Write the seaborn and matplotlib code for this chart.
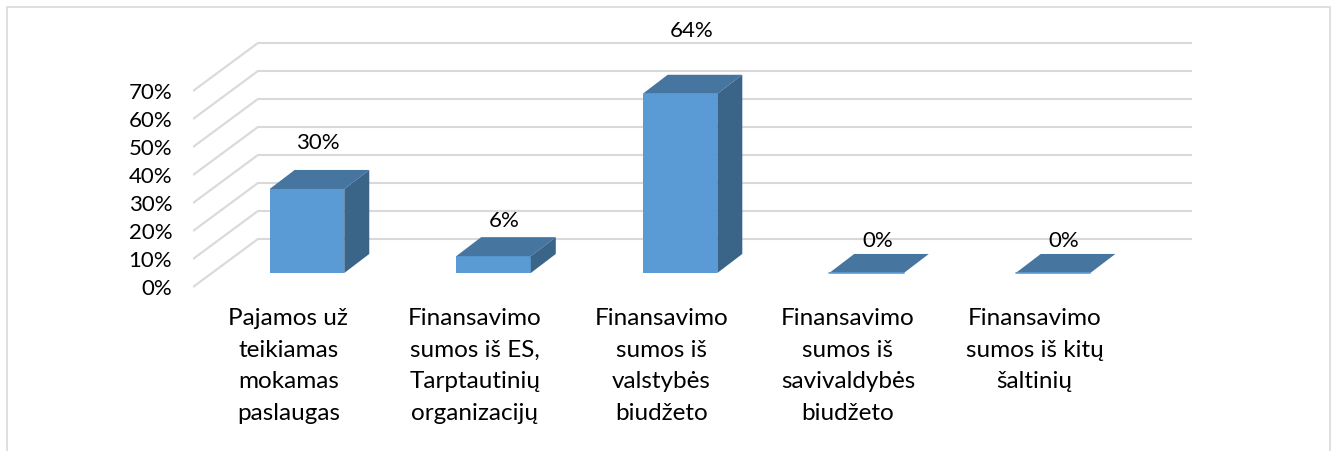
import numpy as np
import pandas as pd
import matplotlib
matplotlib.use("Agg")
import matplotlib.pyplot as plt
from matplotlib.patches import Polygon, Rectangle
import seaborn as sns

categories = [
    "Pajamos už\nteikiamas\nmokamas\npaslaugas",
    "Finansavimo\nsumos iš ES,\nTarptautinių\norganizacijų",
    "Finansavimo\nsumos iš\nvalstybės\nbiudžeto",
    "Finansavimo\nsumos iš\nsavivaldybės\nbiudžeto",
    "Finansavimo\nsumos iš kitų\nšaltinių",
]
values = [30, 6, 64, 0, 0]
value_labels = ["30%", "6%", "64%", "0%", "0%"]
tick_values = [0, 10, 20, 30, 40, 50, 60, 70]
tick_labels = ["0%", "10%", "20%", "30%", "40%", "50%", "60%", "70%"]

FRONT = "#5B9BD5"
TOP = "#4675A0"
SIDE = "#3B6489"
GRID = "#D9D9D9"

sns.set_theme(style="white")
plt.rcParams["font.family"] = ["Lato", "DejaVu Sans"]

FS = 16
FS_CAT = 17.5

fig = plt.figure(figsize=(13.36, 4.51), dpi=100)
ax = fig.add_axes([193 / 1336, 1 - 300 / 451, 999 / 1336, 280 / 451])

df = pd.DataFrame({"cat": categories, "val": values})
sns.barplot(data=df, x="cat", y="val", color=FRONT, width=0.4, saturation=1,
            ax=ax, zorder=3, edgecolor="none")

# perspective offsets (data units)
bar_dx, bar_dy = 0.134, 6.8       # depth of bars
floor_front, floor_back = -5.0, 12.14   # front/back wall offsets of grid
wall_left_front, wall_left_back = -0.611, -0.263
wall_right = 4.745

# back wall grid lines with diagonal side-wall part
for v in tick_values:
    ax.plot([wall_left_front, wall_left_back, wall_right],
            [v + floor_front, v + floor_back, v + floor_back],
            color=GRID, lw=1.5, zorder=1, solid_capstyle="butt")

# 3D faces derived from the bars drawn by seaborn
for p in list(ax.patches):
    x0 = p.get_x()
    w = p.get_width()
    h = p.get_height()
    x1 = x0 + w
    top = Polygon([(x0, h), (x1, h), (x1 + bar_dx, h + bar_dy), (x0 + bar_dx, h + bar_dy)],
                  closed=True, facecolor=TOP, edgecolor="none", zorder=4)
    ax.add_patch(top)
    if h > 0:
        side = Polygon([(x1, 0), (x1 + bar_dx, bar_dy), (x1 + bar_dx, h + bar_dy), (x1, h)],
                       closed=True, facecolor=SIDE, edgecolor="none", zorder=4)
        ax.add_patch(side)
    else:
        ax.plot([x0, x1], [0, 0], color=FRONT, lw=1.2, zorder=5)

# data labels
for i, (v, lab) in enumerate(zip(values, value_labels)):
    ax.text(i + 0.06, v * 1.17 + 11.4, lab, ha="center", va="center",
            fontsize=FS, color="black", zorder=6)

ax.set_xlim(wall_left_front, wall_right)
ax.set_ylim(-27 / 2.8, 253 / 2.8)

ax.set_yticks([v + floor_front for v in tick_values], labels=tick_labels)
ax.set_xticks(np.arange(len(categories)) - 0.1, labels=categories)
ax.tick_params(axis="y", length=0, pad=15, labelsize=FS, colors="black")
ax.tick_params(axis="x", length=0, pad=6, labelsize=FS_CAT, colors="black")
for lab in ax.get_xticklabels():
    lab.set_linespacing(1.62)
    lab.set_ha("center")
ax.set_xlabel("")
ax.set_ylabel("")
for s in ax.spines.values():
    s.set_visible(False)
ax.grid(False)

# outer chart border
fig.patches.append(Rectangle((7 / 1336, -0.02), (1330 - 7) / 1336, 1 - 7 / 451 + 0.02,
                             transform=fig.transFigure, fill=False,
                             edgecolor=GRID, lw=1.2))

fig.savefig("out.png", dpi=100)
